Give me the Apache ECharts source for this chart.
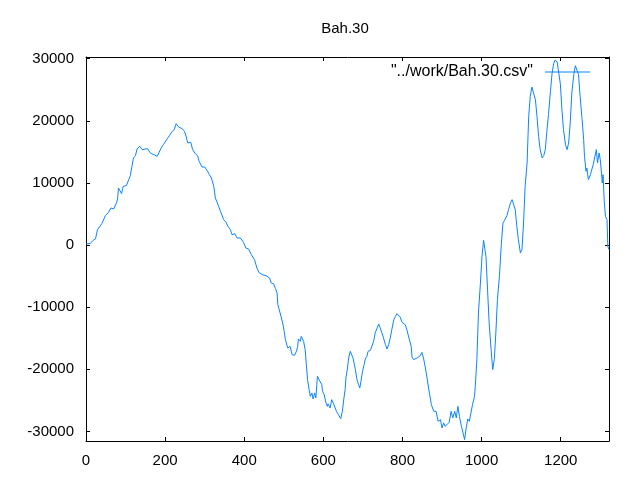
<!DOCTYPE html>
<html>
<head>
<meta charset="utf-8">
<script src="https://cdn.jsdelivr.net/npm/echarts@6/dist/echarts.min.js"></script>
<style>
  html, body { margin: 0; padding: 0; background: #ffffff; }
  #chart { width: 640px; height: 480px; }
</style>
</head>
<body>
<div id="chart"></div>
<script>
const titleText = 'Bah.30';
const seriesName = '"../work/Bah.30.csv"';
const xTicks = [0, 200, 400, 600, 800, 1000, 1200];
const yTicks = [-30000, -20000, -10000, 0, 10000, 20000, 30000];

const xValues = [
  0, 11, 18, 24, 29, 34, 40, 49, 57, 63, 70, 77, 80, 82, 87, 90, 94, 102, 108, 112,
  116, 120, 125, 129, 136, 142, 150, 156, 161, 167, 173, 180, 185, 190, 196, 201, 205, 211, 217, 223,
  228, 234, 238, 243, 249, 253, 257, 265, 269, 276, 282, 286, 293, 300, 306, 312, 317, 323, 327, 332,
  340, 348, 354, 359, 365, 369, 376, 382, 390, 398, 404, 411, 418, 426, 432, 438, 446, 455, 460, 464,
  468, 474, 479, 483, 485, 489, 494, 498, 501, 504, 506, 510, 514, 516, 521, 527, 532, 535, 537, 542,
  544, 548, 550, 554, 557, 560, 564, 567, 571, 574, 578, 581, 585, 589, 592, 596, 598, 602, 606, 610,
  612, 617, 621, 625, 629, 633, 638, 642, 644, 648, 652, 655, 657, 661, 664, 668, 671, 675, 678, 681,
  685, 689, 692, 695, 699, 703, 706, 710, 713, 719, 723, 727, 731, 736, 740, 744, 748, 752, 757, 761,
  765, 769, 773, 778, 782, 786, 790, 794, 799, 803, 807, 811, 817, 822, 824, 828, 832, 837, 841, 845,
  849, 853, 858, 862, 866, 868, 873, 879, 885, 890, 896, 900, 904, 908, 913, 918, 923, 927, 932, 936,
  940, 944, 949, 953, 957, 961, 965, 969, 973, 977, 982, 984, 988, 992, 997, 1001, 1005, 1008, 1011, 1015,
  1019, 1024, 1028, 1032, 1036, 1040, 1045, 1050, 1054, 1058, 1064, 1068, 1073, 1077, 1081, 1085, 1089, 1093, 1098, 1102,
  1106, 1110, 1115, 1119, 1123, 1127, 1131, 1136, 1140, 1144, 1148, 1153, 1157, 1161, 1165, 1169, 1174, 1178, 1182, 1186,
  1191, 1195, 1199, 1203, 1207, 1212, 1216, 1220, 1224, 1228, 1233, 1237, 1241, 1245, 1249, 1254, 1258, 1260, 1264, 1266,
  1270, 1275, 1279, 1282, 1286, 1290, 1293, 1297, 1300, 1303, 1305, 1307, 1310, 1313, 1317, 1319, 1322
];

const yValues = [
  180, 270, 760, 980, 2480, 2400, 3450, 4730, 5270, 5970, 5810, 6780, 7420, 9190, 8920, 8280, 9450, 9560, 10530, 11170,
  12670, 14020, 14390, 15470, 15890, 15360, 15470, 15520, 14930, 14670, 14510, 14280, 14510, 15630, 16210, 16280, 17080, 17610, 18260, 18580,
  19550, 19010, 18790, 18740, 18310, 17500, 16440, 16540, 15470, 14720, 14390, 13480, 12570, 12570, 12030, 11330, 10800, 9450, 7580, 6780,
  5430, 4090, 3660, 3010, 2480, 1670, 1840, 1140, 1140, 440, -470, -630, -1550, -2350, -3690, -4490, -4770, -4930, -5140, -5300,
  -6100, -6220, -7020, -7710, -9600, -9870, -11740, -12820, -13890, -15230, -14960, -16570, -16730, -16310, -17650, -17760, -17110, -16310, -15120, -15500,
  -14700, -14960, -15500, -16840, -19260, -21670, -23280, -24360, -23810, -24780, -23810, -24620, -21140, -21670, -21400, -22480, -23550, -24090, -25260, -25970,
  -25580, -26230, -24890, -25420, -25700, -26770, -27310, -27580, -27950, -26770, -24620, -23280, -21400, -19790, -18180, -17110, -16840, -18180, -18450, -20060,
  -21670, -22480, -23010, -21940, -20330, -19260, -18340, -17920, -17110, -16950, -16730, -15500, -14150, -13350, -12700, -12820, -14150, -14960, -16040, -16730,
  -16040, -14960, -13620, -12010, -11480, -11050, -11370, -11580, -12450, -12540, -12820, -13620, -15120, -16310, -18020, -18450, -18560, -18180, -17920, -17810,
  -17280, -18180, -19790, -21400, -23010, -23810, -25700, -26770, -26770, -28380, -28110, -29450, -28640, -29190, -28920, -28550, -26770, -27840, -26770, -27840,
  -25970, -27580, -29190, -30250, -31330, -29450, -28000, -28380, -27030, -25700, -24360, -22750, -18450, -10930, -6100, -1820, 760, 870, -1820, -7180,
  -12540, -16840, -20060, -18450, -14150, -8790, -5040, 340, 3560, 3980, 4730, 5700, 6780, 7310, 7420, 5700, 3010, 870, -1270, -740,
  3560, 9450, 13220, 20720, 23940, 25450, 25290, 23410, 20720, 17500, 15360, 14020, 14390, 15360, 18310, 20990, 24750, 27600, 29210, 29800,
  29450, 27710, 25990, 21800, 18580, 16160, 15360, 16440, 19660, 24490, 27430, 28880, 29040, 27430, 23940, 20190, 16970, 14280, 11870, 12410,
  10530, 11330, 11060, 12940, 13110, 15360, 13220, 14830, 13750, 11610, 10000, 11330, 7040, 4620, 4090, -210, -740
];

const lineColor = '#0a84ff';
const fontFamily = '"Liberation Sans", Arial, sans-serif';
const plainNumber = (v) => String(Math.round(v));

const chart = echarts.init(document.getElementById('chart'), null, { renderer: 'canvas' });

const tickStyle = { inside: true, length: 4, lineStyle: { color: '#000', width: 1 } };
const axisLineStyle = { show: true, onZero: false, lineStyle: { color: '#000', width: 1 } };

const option = {
  animation: false,
  backgroundColor: '#ffffff',
  title: {
    text: titleText,
    left: 340,
    top: 16,
    textAlign: 'center',
    textStyle: { fontFamily: fontFamily, fontSize: 15, fontWeight: 'normal', color: '#000' }
  },
  legend: {
    data: [seriesName],
    right: 45,
    top: 59,
    align: 'right',
    itemWidth: 45,
    itemHeight: 1,
    icon: 'rect',
    textStyle: { fontFamily: fontFamily, fontSize: 16, color: '#000', padding: [0, 7, 0, 0] }
  },
  grid: { left: 86, right: 31, top: 57, bottom: 39, containLabel: false },
  xAxis: [
    {
      type: 'value', position: 'bottom', min: 0, max: 1322,
      axisLine: axisLineStyle,
      axisTick: Object.assign({ customValues: xTicks }, tickStyle),
      splitLine: { show: false },
      axisLabel: {
        color: '#000', fontFamily: fontFamily, fontSize: 15, margin: 12,
        customValues: xTicks,
        formatter: plainNumber
      }
    },
    {
      type: 'value', position: 'top', min: 0, max: 1322,
      axisLine: axisLineStyle,
      axisTick: Object.assign({ customValues: xTicks }, tickStyle),
      splitLine: { show: false },
      axisLabel: { show: false }
    }
  ],
  yAxis: [
    {
      type: 'value', position: 'left', min: -31550, max: 30280,
      axisLine: axisLineStyle,
      axisTick: Object.assign({ customValues: yTicks }, tickStyle),
      splitLine: { show: false },
      axisLabel: {
        color: '#000', fontFamily: fontFamily, fontSize: 15, margin: 12,
        customValues: yTicks,
        formatter: plainNumber
      }
    },
    {
      type: 'value', position: 'right', min: -31550, max: 30280,
      axisLine: axisLineStyle,
      axisTick: Object.assign({ customValues: yTicks }, tickStyle),
      splitLine: { show: false },
      axisLabel: { show: false }
    }
  ],
  series: [
    {
      name: seriesName,
      type: 'line',
      xAxisIndex: 0,
      yAxisIndex: 0,
      data: xValues.map((x, i) => [x, yValues[i]]),
      showSymbol: false,
      symbol: 'none',
      color: lineColor,
      lineStyle: { color: lineColor, width: 1 },
      itemStyle: { color: lineColor },
      clip: true
    }
  ]
};

chart.setOption(option);
</script>
</body>
</html>
